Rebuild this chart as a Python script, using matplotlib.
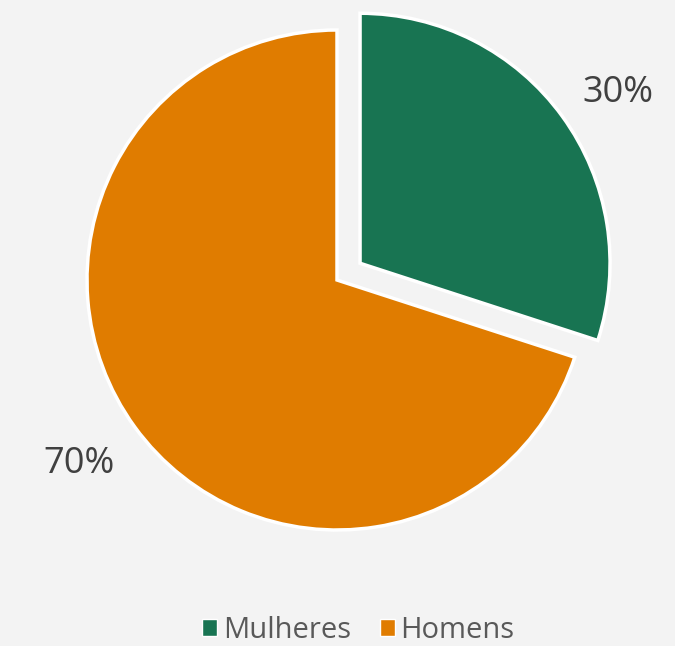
import matplotlib
matplotlib.use("Agg")
import matplotlib.pyplot as plt
from matplotlib.patches import Patch

# data
labels = ["Mulheres", "Homens"]
shares = [30, 70]
colors = ["#187452", "#e07c00"]
explode = [0.114, 0.0]

plt.rcParams["font.family"] = ["Open Sans", "DejaVu Sans"]

fig = plt.figure(figsize=(6.75, 6.46), dpi=100)
fig.patch.set_facecolor("#f3f3f3")
ax = fig.add_axes([0, 0, 1, 1])
ax.set_facecolor("#f3f3f3")

wedges, texts, autotexts = ax.pie(
    shares,
    colors=colors,
    explode=explode,
    startangle=90,
    counterclock=False,
    autopct="%1.0f%%",
    pctdistance=1.25,
    wedgeprops=dict(edgecolor="white", linewidth=2.5),
    textprops=dict(fontsize=26, color="#404040"),
)
# excel puts the small slice label a bit lower
x, y = autotexts[0].get_position()
autotexts[0].set_position((x + 0.02, y - 0.055))
x, y = autotexts[1].get_position()
autotexts[1].set_position((x - 0.02, y))

ax.set_xlim(-1.348, 1.352)
ax.set_ylim(-1.464, 1.12)
ax.set_aspect("auto")
ax.axis("off")

handles = [Patch(facecolor=c, edgecolor="white", linewidth=1) for c in colors]
fig.legend(handles, labels, loc="center", bbox_to_anchor=(0.531, 0.024),
           ncol=2, frameon=False, fontsize=21, labelcolor="#595959",
           handlelength=0.5, handleheight=0.5, handletextpad=0.2,
           columnspacing=1.0, borderpad=0)

fig.savefig("out.png", dpi=100, facecolor=fig.get_facecolor())
